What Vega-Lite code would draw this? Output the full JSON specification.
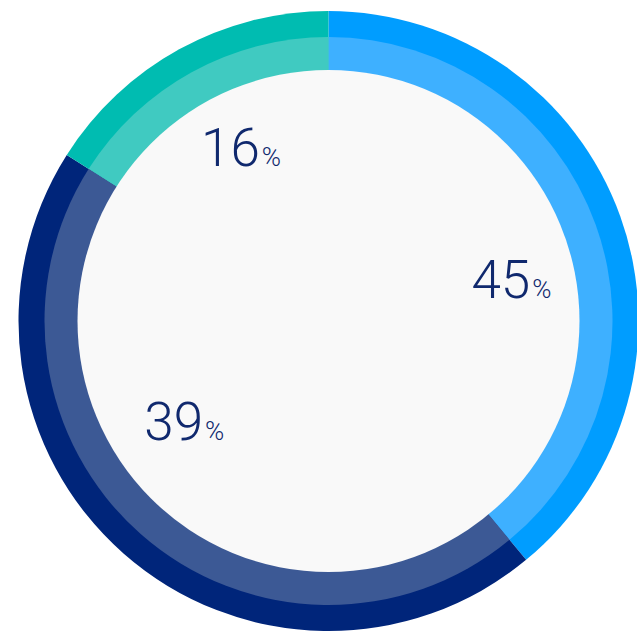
{
  "$schema": "https://vega.github.io/schema/vega-lite/v6.json",
  "width": 617,
  "height": 622,
  "autosize": {"type": "none"},
  "padding": {"left": 20, "top": 10, "right": 0, "bottom": 0},
  "background": "white",
  "config": {"view": {"stroke": null}},
  "data": {"values": [
    {"segment": "Blue", "arc": 39, "label": 45, "rank": 1},
    {"segment": "Navy", "arc": 45, "label": 39, "rank": 2},
    {"segment": "Teal", "arc": 16, "label": 16, "rank": 3}
  ]},
  "layer": [
    {
      "mark": {"type": "arc", "outerRadius": 310},
      "encoding": {
        "theta": {"field": "arc", "type": "quantitative", "stack": true},
        "order": {"field": "rank"},
        "color": {"field": "segment", "type": "nominal", "legend": null,
          "scale": {"domain": ["Blue", "Navy", "Teal"], "range": ["#009dff", "#00257a", "#00bcb1"]}}
      }
    },
    {
      "mark": {"type": "arc", "outerRadius": 284},
      "encoding": {
        "theta": {"field": "arc", "type": "quantitative", "stack": true},
        "order": {"field": "rank"},
        "color": {"field": "segment", "type": "nominal", "legend": null,
          "scale": {"domain": ["Blue", "Navy", "Teal"], "range": ["#3eb0ff", "#3c5995", "#40cac1"]}}
      }
    },
    {
      "data": {"values": [{"full": 1}]},
      "mark": {"type": "arc", "outerRadius": 251, "color": "#f9f9f9"},
      "encoding": {
        "theta": {"field": "full", "type": "quantitative"}
      }
    },
    {
      "mark": {"type": "text", "radius": 184, "align": "right", "baseline": "alphabetic", "dx": 20, "dy": 6,
        "font": "Roboto", "fontWeight": 300, "fontSize": 53, "color": "#10296e"},
      "encoding": {
        "theta": {"field": "label", "type": "quantitative", "stack": true},
        "order": {"field": "rank"},
        "text": {"field": "label", "type": "quantitative"}
      }
    },
    {
      "mark": {"type": "text", "radius": 184, "align": "left", "baseline": "alphabetic", "dx": 22, "dy": 6,
        "font": "Roboto", "fontWeight": 300, "fontSize": 26, "color": "#10296e"},
      "encoding": {
        "theta": {"field": "label", "type": "quantitative", "stack": true},
        "order": {"field": "rank"},
        "text": {"value": "%"}
      }
    }
  ],
  "resolve": {"scale": {"theta": "independent", "color": "independent"}}
}
